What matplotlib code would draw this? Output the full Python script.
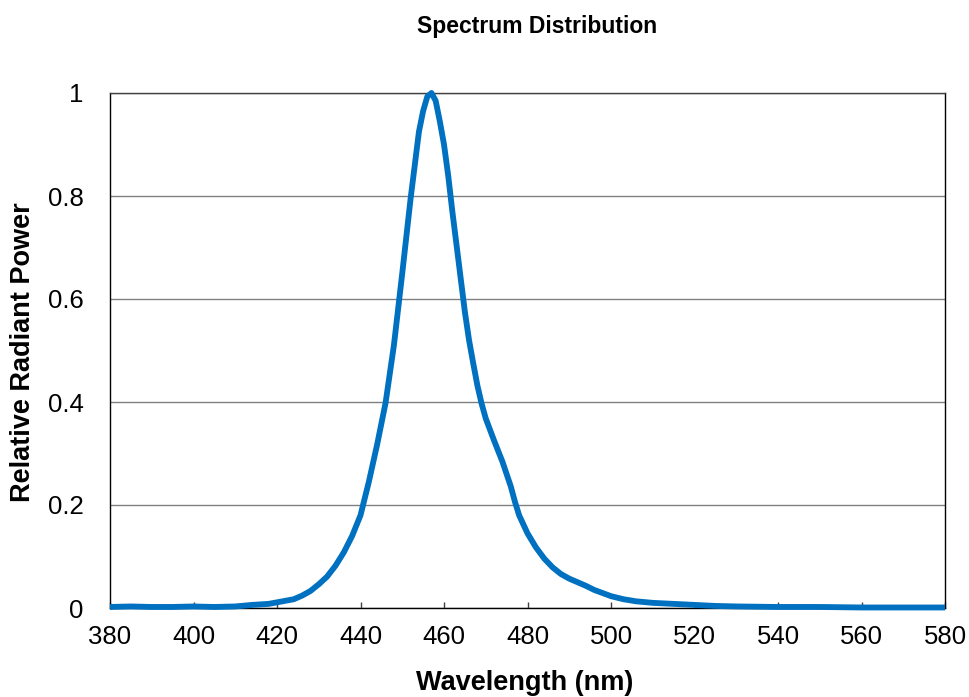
import numpy as np
import matplotlib
matplotlib.use('Agg')
import matplotlib.pyplot as plt

plt.rcParams['font.family'] = ['Liberation Sans', 'DejaVu Sans']

# 波长 (nm) 与相对辐射功率
wavelength = [380, 385, 390, 395, 400, 405, 410, 414, 418, 420, 422, 424, 426, 428,
              430, 432, 434, 436, 438, 440, 442, 444, 446, 448, 450, 452, 454,
              455, 456, 457, 458, 459, 460, 461, 462, 463, 464, 465, 466, 467, 468,
              469, 470, 472, 474, 476, 477, 478, 480, 482, 484, 486, 488, 490, 492,
              494, 496, 498, 500, 503, 506, 510, 515, 520, 525, 530, 540, 550, 560,
              570, 580]
power = [0.002, 0.003, 0.002, 0.002, 0.003, 0.002, 0.003, 0.006, 0.008, 0.011, 0.014,
         0.017, 0.024, 0.033, 0.046, 0.061, 0.082, 0.108, 0.140, 0.180, 0.245,
         0.318, 0.398, 0.510, 0.650, 0.795, 0.925, 0.965, 0.993, 1.000, 0.985, 0.945,
         0.900, 0.840, 0.770, 0.705, 0.640, 0.575, 0.520, 0.475, 0.432, 0.397, 0.368,
         0.325, 0.284, 0.236, 0.206, 0.180, 0.145, 0.118, 0.096, 0.079, 0.066, 0.057,
         0.050, 0.043, 0.035, 0.029, 0.023, 0.017, 0.013, 0.010, 0.008, 0.006, 0.004,
         0.003, 0.002, 0.002, 0.001, 0.001, 0.001]

x_ticks = np.arange(380, 581, 20)
y_ticks = [0, 0.2, 0.4, 0.6, 0.8, 1]
y_labels = ['0', '0.2', '0.4', '0.6', '0.8', '1']

fig = plt.figure(figsize=(9.7, 6.97), dpi=100)
ax = fig.add_axes([110/970, 1 - 608/697, 835/970, 515/697])

ax.plot(wavelength, power, color='#0070C0', lw=4.2, solid_joinstyle='round',
        solid_capstyle='butt', zorder=3, clip_on=False)

ax.set_xlim(380, 580)
ax.set_ylim(0, 1)
ax.set_xticks(x_ticks)
ax.set_yticks(y_ticks)
ax.set_yticklabels(y_labels)
ax.grid(axis='y', color='#808080', lw=1.0)
ax.set_axisbelow(True)

ax.tick_params(axis='x', direction='in', length=4, width=1, color='#404040',
               labelsize=18.5, pad=12)
ax.tick_params(axis='y', length=0, labelsize=18.5, pad=19)
for s in ax.spines.values():
    s.set_color('black')
    s.set_linewidth(1.0)
ax.spines['top'].set_color('#404040')

fig.text(537/970, 1 - 26/697, 'Spectrum Distribution', ha='center', va='center',
         fontsize=16.5, fontweight='bold')
fig.text(525/970, 1 - 683/697, 'Wavelength (nm)', ha='center', va='center',
         fontsize=19.5, fontweight='bold')
fig.text(23/970, 1 - 352/697, 'Relative Radiant Power', ha='center', va='center',
         rotation=90, fontsize=19.5, fontweight='bold')

plt.savefig('out.png', dpi=100)
